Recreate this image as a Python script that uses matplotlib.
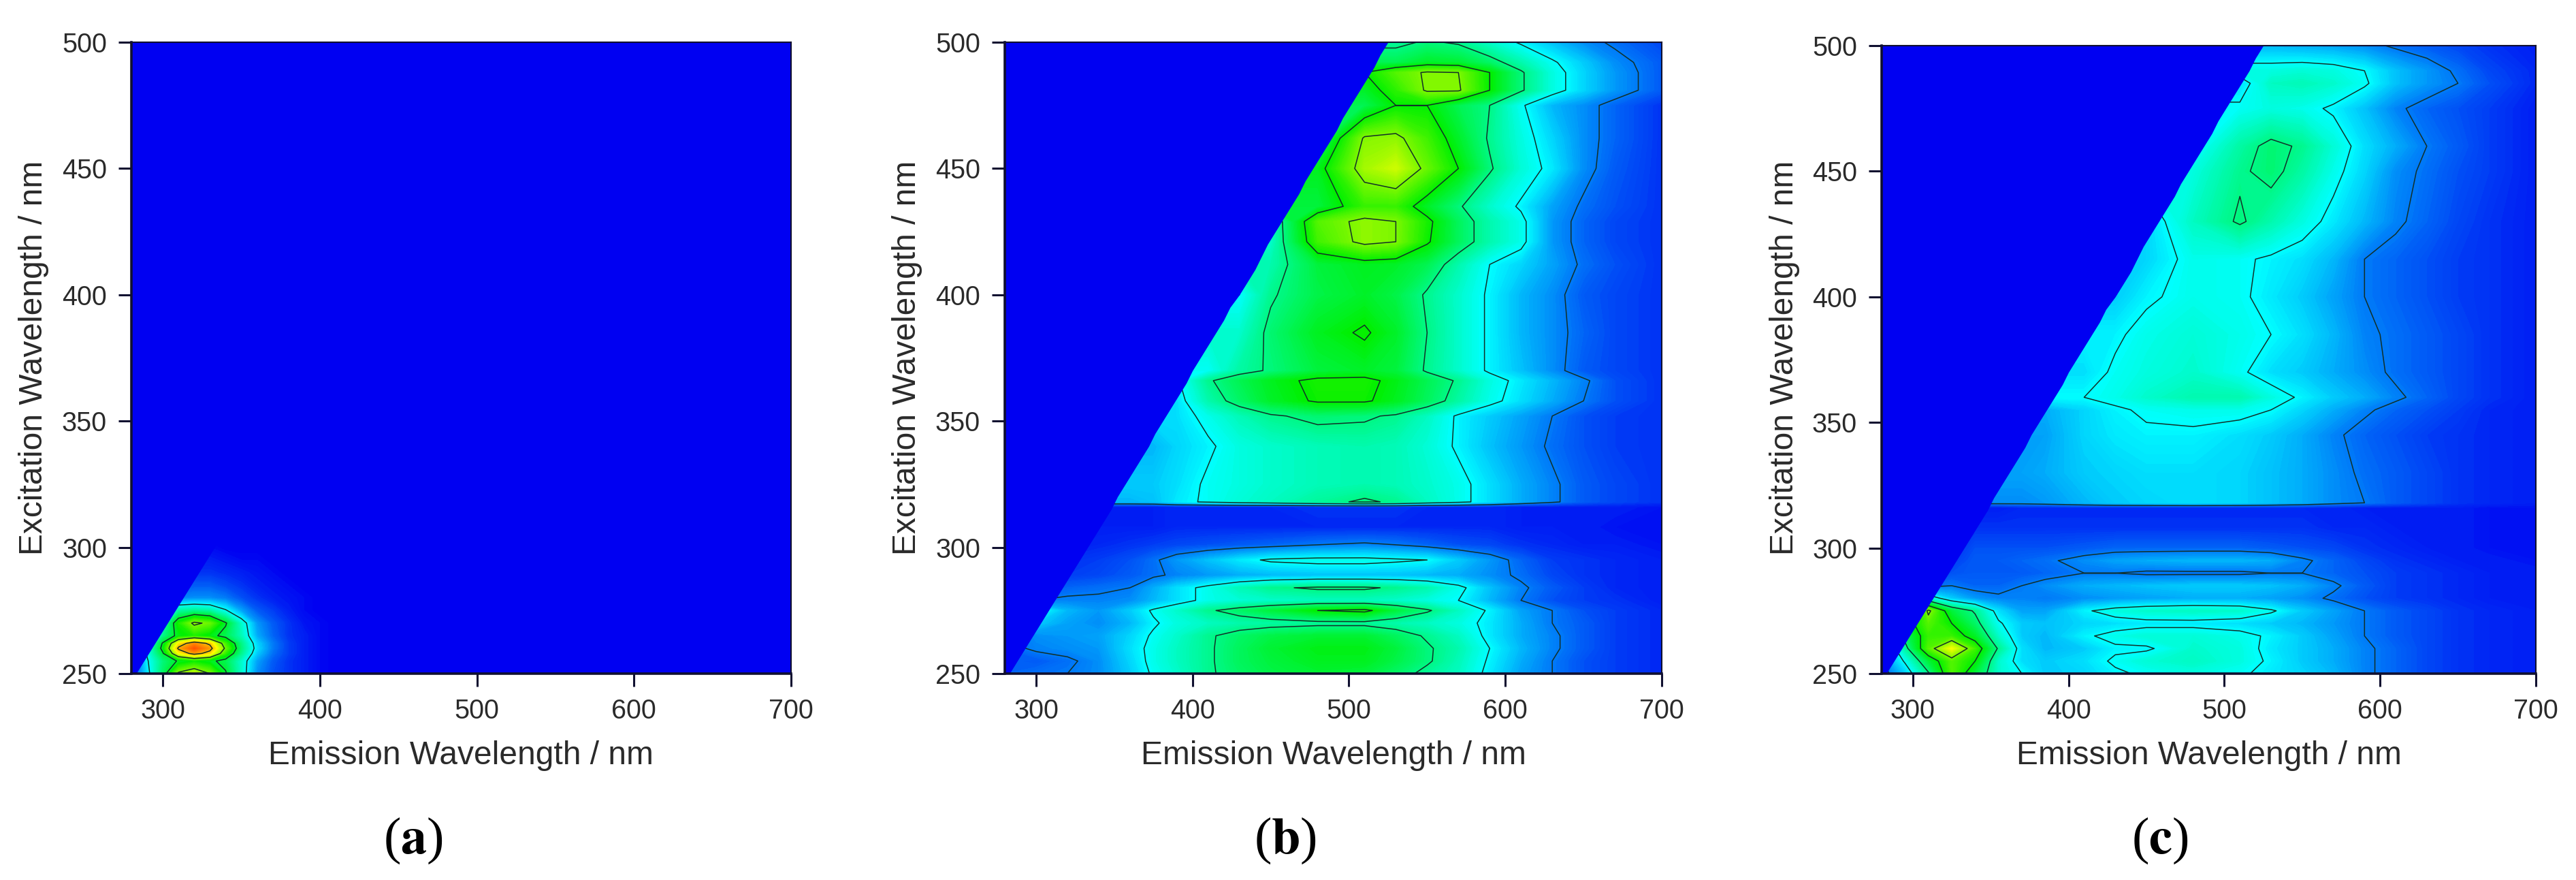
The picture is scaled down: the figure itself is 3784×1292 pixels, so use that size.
import numpy as np
import matplotlib
matplotlib.use('Agg')
import matplotlib.pyplot as plt
from matplotlib.colors import LinearSegmentedColormap

W, H = 3784, 1292
plt.rcParams['font.family'] = ['Liberation Sans', 'DejaVu Sans']

# scan limit: below this emission the instrument has no signal
edge_ex = [250,255,260,265,270,275,280,285,290,295,300,305,310,315,320,325,330,335,340,345,350,355,360,365,370,
           375,380,385,390,395,400,405,410,415,420,425,430,435,440,445,450,455,460,465,470,475,480,485,490,495,500]
edge_em = [283,288,293,298,303,308,313,318,323,328,333,338,343,348,352,357,362,367,372,376,381,386,391,396,400,
           405,410,415,420,424,430,435,440,444,448,453,458,463,468,472,477,482,487,492,496,501,506,511,516,520,525]

# panel a
em_a = [280,290,300,310,320,330,340,350,360,370,380,390,400,410]
ex_a = [250,255,258,260,262,265,270,275,280,285,290,295,300,305]
z_a = [
    [5,22,40,64,70,62,46,30,14,8,5,3,1,0],
    [3,24,38,46,50,47,42,30,16,9,5,3,1,0],
    [1,26,44,74,86,78,54,36,20,11,6,3,1,0],
    [1,26,48,84,94,86,60,38,22,12,6,3,1,0],
    [1,24,46,76,88,80,56,37,21,12,6,3,1,0],
    [1,18,36,48,52,48,42,32,17,10,5,3,1,0],
    [1,8,30,52,64,60,46,30,15,9,5,2,1,0],
    [1,3,22,34,36,34,26,16,9,6,3,1,0,0],
    [0,1,9,13,14,14,12,8,5,3,2,1,0,0],
    [0,0,4,8,9,9,7,5,3,2,1,0,0,0],
    [0,0,1,4,5,5,4,3,2,1,0,0,0,0],
    [0,0,0,2,3,3,2,1,1,0,0,0,0,0],
    [0,0,0,0,1,1,0,0,0,0,0,0,0,0],
    [0,0,0,0,0,0,0,0,0,0,0,0,0,0],
]

# panel b
em_b = [280,300,320,340,360,375,390,410,430,450,480,510,530,550,570,590,610,630,650,670,700]
ex_b = [250,255,260,265,270,275,279,284,289,295,301,308,316,318,325,340,352,358,366,370,385,400,412,421,429,435,450,462,475,481,488,492,500]
z_b = [
    [10,11,12,14,20,26,30,36,40,43,45,44,40,35,31,23,16,12,8,6,4],
    [10,9,11,14,21,27,31,36,41,44,47,47,43,38,32,24,17,12,8,6,4],
    [10,13,14,15,22,27,31,36,41,45,48,48,44,38,33,25,18,13,9,6,4],
    [10,14,15,16,21,26,30,36,40,43,45,45,41,36,31,23,17,13,9,6,4],
    [8,20,16,14,18,24,28,31,33,34,35,35,33,31,28,23,17,12,9,6,4],
    [8,27,18,15,20,26,30,36,40,44,50,52,44,38,31,24,16,12,8,6,4],
    [6,12,13,13,14,18,22,27,29,30,31,31,30,28,25,18,12,8,6,5,3],
    [5,8,10,11,12,17,22,27,32,36,38,38,36,33,27,19,13,9,6,4,3],
    [4,5,6,7,9,11,13,15,17,18,19,19,19,18,17,14,11,7,5,4,3],
    [3,4,5,6,8,11,15,19,23,26,27,27,26,25,20,15,10,6,5,4,3],
    [3,3,3,4,5,6,7,8,9,10,12,13,12,10,8,7,5,4,3,3,2],
    [2,2,3,3,3,3,4,4,4,4,4,4,4,4,4,4,3,3,3,2,2],
    [3,3,3,3,3,3,4,4,4,4,5,5,5,4,4,4,3,3,3,3,2],
    [18]*5 + [19,23,26,29,31,35,38,36,31,27,22,17,13,9,7,5],
    [20]*6 + [22,26,28,30,32,33,32,30,27,22,17,13,9,7,5],
    [18]*6 + [21,24,28,30,32,33,32,29,24,19,15,11,8,6,5],
    [22]*7 + [27,32,36,39,38,36,31,24,20,16,12,8,6,5],
    [22]*7 + [33,40,46,51,51,47,41,34,27,22,17,12,8,5],
    [24]*7 + [36,42,47,52,52,48,42,36,28,23,18,13,8,5],
    [26]*8 + [34,38,44,46,44,36,30,24,19,14,9,7,5],
    [30]*9 + [39,47,51,46,37,30,24,18,14,10,7,5],
    [25]*9 + [36,43,46,43,36,30,24,18,14,9,7,5],
    [33]*10 + [44,47,46,42,33,25,21,16,11,8,5],
    [30]*10 + [56,64,62,51,41,33,27,15,10,7,5],
    [30]*10 + [58,64,62,52,41,33,27,15,10,7,5],
    [44]*11 + [55,55,46,38,30,24,16,11,8,5],
    [47]*11 + [66,70,60,50,38,29,23,14,9,5],
    [38]*11 + [63,64,56,46,36,28,21,14,10,5],
    [42]*12 + [50,50,42,37,26,18,14,10,5],
    [46]*12 + [54,63,63,50,38,28,21,15,9],
    [50]*12 + [58,63,62,50,38,28,21,15,9],
    [42]*13 + [46,45,40,33,26,20,14,9],
    [35]*13 + [38,36,30,24,19,14,11,7],
]

# panel c
em_c = [280,295,310,325,340,355,370,385,410,430,450,480,510,530,550,570,590,610,630,650,670,700]
ex_c = [250,255,260,265,270,275,280,285,290,295,300,308,316,318,330,345,355,360,370,385,400,415,430,450,460,475,485,490,500]
z_c = [
    [8,20,36,58,44,30,25,20,21,24,26,28,26,23,21,18,13,10,7,5,4,3],
    [12,26,44,58,50,30,22,20,22,26,29,31,28,24,20,17,13,10,7,5,4,3],
    [12,34,58,74,56,36,22,18,20,24,24,30,28,23,20,17,13,10,7,5,4,3],
    [10,40,55,55,46,30,20,18,24,27,29,29,27,24,20,16,12,9,7,5,4,3],
    [8,45,58,50,40,26,20,19,21,22,23,23,22,20,18,15,12,9,7,5,4,3],
    [5,30,64,44,36,22,16,16,24,28,30,31,30,26,20,16,12,9,7,5,4,3],
    [4,8,30,20,15,13,13,12,14,15,16,17,17,16,14,11,8,6,5,4,3,3],
    [3,4,10,12,10,10,12,14,17,18,19,20,20,19,17,13,9,6,5,4,3,3],
    [3,3,5,8,9,9,9,10,12,12,11,11,11,12,12,10,8,6,5,4,3,3],
    [3,3,4,6,9,9,10,11,14,16,17,18,18,17,13,10,7,5,4,3,3,2],
    [3,3,3,4,8,8,8,8,9,10,10,10,10,9,8,7,5,4,3,3,2,2],
    [2,2,3,4,5,5,5,5,5,5,5,5,5,5,5,4,4,3,3,3,2,2],
    [3,3,3,3,3,3,4,4,4,4,4,4,4,4,4,4,3,3,3,3,2,2],
    [14]*7 + [15,18,20,21,22,21,19,17,14,12,9,7,5,4,3],
    [16]*7 + [17,20,21,22,22,21,19,17,14,11,9,7,5,4,3],
    [16]*8 + [21,23,24,24,22,20,17,13,10,8,6,5,4,3],
    [17]*8 + [21,24,26,27,27,25,21,17,13,10,8,6,4,3],
    [25]*9 + [27,30,33,33,28,24,20,17,13,10,7,5,3],
    [22]*9 + [26,28,30,26,22,20,17,14,11,9,7,5,3],
    [24]*10 + [27,29,27,25,22,18,13,11,9,7,5,3],
    [20]*10 + [24,27,26,23,20,16,12,10,8,6,5,3],
    [21]*11 + [27,26,24,22,18,12,10,8,6,5,3],
    [21]*11 + [31,38,33,28,23,18,13,10,7,5,3],
    [28]*12 + [36,39,34,27,21,14,11,8,6,3],
    [24]*12 + [34,39,36,29,22,17,12,9,6,3],
    [26]*13 + [28,27,24,19,13,10,8,6,3],
    [22]*13 + [31,32,30,26,19,15,12,8,4],
    [28]*14 + [29,28,25,19,15,11,7,4],
    [18]*14 + [17,16,14,11,9,7,5,3],
]

x_ticks = [300, 400, 500, 600, 700]
y_ticks = [250, 300, 350, 400, 450, 500]
levels_a = [25, 45, 62, 82]
levels_bc = [12, 25, 37, 50, 62, 75]

blue = '#0000f2'
cmap = LinearSegmentedColormap.from_list('em', [blue, '#00ffff', '#00f000', '#ffff00', '#ff2000'])

# left, right, top of each frame in px, bottom is shared
boxes = [(193, 1162, 62), (1476, 2441, 62), (2764, 3725, 67)]
bottom = 989
ylabel_x = [50, 1332, 2621]
xlabel_x = [677, 1959, 3245]
cap_x = [607, 1888, 3173]
letters = ['a', 'b', 'c']

fig = plt.figure(figsize=(W / 100, H / 100), dpi=100, facecolor='white')
data = [(em_a, ex_a, z_a, levels_a), (em_b, ex_b, z_b, levels_bc), (em_c, ex_c, z_c, levels_bc)]

for i, (em, ex, z, lev) in enumerate(data):
    l, r, t = boxes[i]
    ax = fig.add_axes([l / W, 1 - bottom / H, (r - l) / W, (bottom - t) / H])
    ax.set_facecolor(blue)
    ax.contourf(em, ex, np.array(z, dtype=float), levels=np.linspace(0, 100, 201), cmap=cmap, antialiased=False)
    ax.contour(em, ex, np.array(z, dtype=float), levels=lev, colors='#123028', linewidths=1.1)
    ax.fill_betweenx(edge_ex, 280, edge_em, color=blue, lw=0, zorder=3)
    ax.set_xlim(280, 700)
    ax.set_ylim(250, 500)
    ax.set_xticks(x_ticks)
    ax.set_yticks(y_ticks)
    ax.tick_params(direction='out', length=14, width=2.2, labelsize=28.5, labelcolor='#2a2a2a', pad=12)
    ax.tick_params(axis='both', color='#101030')
    ax.spines['top'].set_linewidth(1.5)
    ax.spines['right'].set_linewidth(1.5)
    ax.spines['left'].set_linewidth(2.6)
    ax.spines['bottom'].set_linewidth(2.6)
    for s in ax.spines.values():
        s.set_color('#101030')
        s.set_zorder(5)
    fig.text(xlabel_x[i] / W, 1 - 1110 / H, 'Emission Wavelength / nm', ha='center', va='center',
             fontsize=34.5, color='#2a2a2a')
    fig.text(ylabel_x[i] / W, 1 - 525 / H, 'Excitation Wavelength / nm', ha='center', va='center',
             rotation=90, fontsize=34.5, color='#2a2a2a')
    # caption: parens plain, letter bold
    fig.text(cap_x[i] / W, 1 - 1234 / H, r'($\mathbf{%s}$)' % letters[i], ha='center', va='center',
             fontsize=55, color='black', math_fontfamily='stix', family='Liberation Serif')

fig.savefig('out.png', dpi=100)
plt.close()
